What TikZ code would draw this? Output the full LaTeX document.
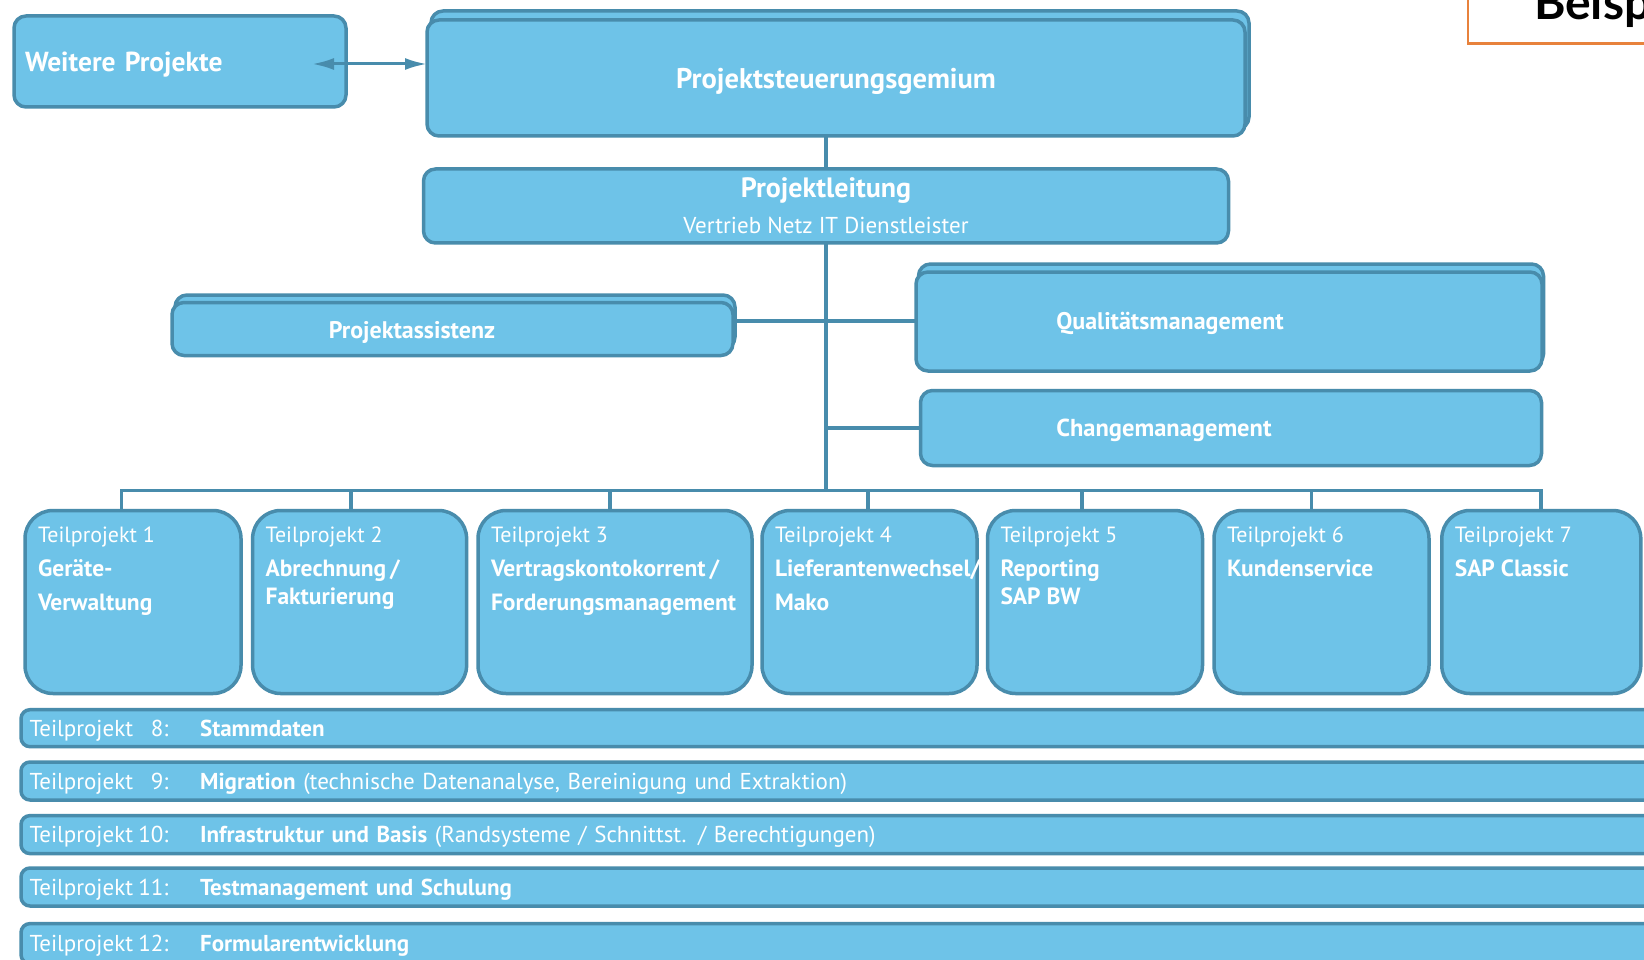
\documentclass[tikz,border=0pt]{standalone}
\usepackage{fontspec}
\setmainfont{PT Sans}
\newfontfamily\latofont{Lato}
\usetikzlibrary{arrows.meta,calc}
\definecolor{boxfill}{RGB}{110,195,232}
\definecolor{boxline}{RGB}{72,140,172}
\definecolor{beispielorange}{RGB}{232,130,60}
\newcommand{\tpb}[1]{{\bfseries\fontsize{23.5}{34}\selectfont #1}}
\newcommand{\barlabel}[1]{\makebox[170.6pt][l]{\rlap{Teilprojekt}\makebox[139pt][r]{#1}}}
\begin{document}
\begin{tikzpicture}[x=1pt,y=-1pt,
  every node/.style={inner sep=0pt, outer sep=0pt},
  box/.style={draw=boxline, fill=boxfill, line width=3.5pt, rounded corners=12pt, text=white},
  tpbox/.style={box, rounded corners=28pt, minimum height=183pt},
  bar/.style={box, rounded corners=9pt, minimum width=1700pt, text width=1683pt, align=left, text height=16.5pt, text depth=0pt, font=\fontsize{23}{27}\selectfont},
  conn/.style={draw=boxline, line width=3.5pt},
  boldlabel/.style={text=white, font=\bfseries\fontsize{24.5}{29}\selectfont},
  tptext/.style={anchor=north west, align=left, text=white, font=\fontsize{22}{34}\selectfont}
]
\useasboundingbox (0,0) rectangle (1644,960);
\fill[white] (0,0) rectangle (1644,960);
\clip (0,0) rectangle (1644,960);

% Beispiel box (cut off)
\draw[draw=beispielorange, line width=2.2pt] (1468,-30) rectangle (1720,43.5);
\node[anchor=base west, font=\latofont\bfseries\fontsize{48}{56}\selectfont] (beispiel) at (1534,20) {Beispiel};

% top row
\node[box, minimum width=332pt, minimum height=91pt, text width=310pt, align=left, text depth=0pt, font=\bfseries\fontsize{27.5}{32}\selectfont] (wp) at (180,61.5) {Weitere Projekte};
\node[box, minimum width=818pt, minimum height=118pt] (psgback) at (840,70) {};
\node[box, minimum width=818pt, minimum height=116pt, text depth=0pt, font=\bfseries\fontsize{28.5}{32}\selectfont] (psg) at (836,78) {Projektsteuerungsgemium};

\node[box, minimum width=805pt, minimum height=74pt, align=center, font=\fontsize{23}{36}\selectfont] (pl) at (826,206) {{\bfseries\fontsize{28}{32}\selectfont Projektleitung}\\Vertrieb Netz IT Dienstleister};

% staff boxes
\node[box, minimum width=560pt, minimum height=54pt] (paback) at (455,322) {};
\node[box, minimum width=561pt, minimum height=53pt] (pa) at (452.5,329) {};
\node[boldlabel, font=\bfseries\fontsize{24}{28}\selectfont] (pat) at (412,332) {Projektassistenz};

\node[box, minimum width=625pt, minimum height=102pt] (qmback) at (1231,315) {};
\node[box, minimum width=626pt, minimum height=99pt] (qm) at (1229,321.5) {};
\node[boldlabel, font=\bfseries\fontsize{24}{28}\selectfont] (qmt) at (1170,323.5) {Qualitätsmanagement};

\node[box, minimum width=621pt, minimum height=75pt] (cm) at (1231,428) {};
\node[boldlabel] (cmt) at (1164,430.5) {Changemanagement};

% Teilprojekt boxes
\node[tpbox, minimum width=216pt] (tp1) at (133,602) {};
\node[tpbox, minimum width=214pt] (tp2) at (359.6,602) {};
\node[tpbox, minimum width=274pt] (tp3) at (615,602) {};
\node[tpbox, minimum width=215pt] (tp4) at (869.5,602) {};
\node[tpbox, minimum width=215pt] (tp5) at (1095,602) {};
\node[tpbox, minimum width=215pt] (tp6) at (1321.5,602) {};
\node[tpbox, minimum width=199pt] (tp7) at (1541.3,602) {};

\node[tptext] (tp1t) at ($(tp1.north west)+(13,16.5)$) {Teilprojekt 1\\\tpb{Geräte-}\\\tpb{Verwaltung}};
\node[tptext] (tp2t) at ($(tp2.north west)+(13,16.5)$) {Teilprojekt 2\\\tpb{Abrechnung\,/}\\[-6pt]\tpb{Fakturierung}};
\node[tptext] (tp3t) at ($(tp3.north west)+(13,16.5)$) {Teilprojekt 3\\\tpb{Vertragskontokorrent\,/}\\\tpb{Forderungsmanagement}};
\node[tptext] (tp4t) at ($(tp4.north west)+(13,16.5)$) {Teilprojekt 4\\\tpb{Lieferantenwechsel/}\\\tpb{Mako}};
\node[tptext] (tp5t) at ($(tp5.north west)+(13,16.5)$) {Teilprojekt 5\\\tpb{Reporting}\\[-6pt]\tpb{SAP BW}};
\node[tptext] (tp6t) at ($(tp6.north west)+(13,16.5)$) {Teilprojekt 6\\\tpb{Kundenservice}};
\node[tptext] (tp7t) at ($(tp7.north west)+(13,16.5)$) {Teilprojekt 7\\\tpb{SAP Classic}};

% bars
\node[bar, minimum height=37pt] (b8) at (871,728.2) {\barlabel{8:}\textbf{Stammdaten}};
\node[bar, minimum height=38pt] (b9) at (871,781) {\barlabel{9:}\textbf{Migration} (technische Datenanalyse, Bereinigung und Extraktion)};
\node[bar, minimum height=38pt] (b10) at (871,834.6) {\barlabel{10:}\textbf{Infrastruktur und Basis} (Randsysteme / Schnittst. / Berechtigungen)};
\node[bar, minimum height=38pt] (b11) at (871,887) {\barlabel{11:}\textbf{Testmanagement und Schulung}};
\node[bar, minimum height=40pt] (b12) at (871,943.6) {\barlabel{12:}\textbf{Formularentwicklung}};

% connectors
\coordinate (arrL) at (312,64);
\draw[conn, line width=3pt, {Latex[length=22pt,width=12pt]}-{Latex[length=22pt,width=12pt]}] (arrL) -- (arrL -| psg.west);
\draw[conn] (pl.north) -- (pl.north |- psg.south);
\coordinate (j1) at (pl.south |- 0,321);
\coordinate (j2) at (pl.south |- 0,428);
\coordinate (busM) at (pl.south |- 0,490.7);
\draw[conn] (pl.south) -- (busM);
\draw[conn] (j1) -- (j1 -| pa.east);
\draw[conn] (j1) -- (j1 -| qm.west);
\draw[conn] (j2) -- (j2 -| cm.west);
\coordinate (busL) at (121.6,490.7);
\coordinate (busR) at (1541,490.7);
\draw[conn] (busL |- tp1.north) -- (busL) -- (busR) -- (busR |- tp7.north);
\foreach \x/\n in {351/tp2, 610/tp3, 868/tp4, 1082/tp5, 1311.7/tp6} {
  \coordinate (d\n) at (\x,490.7);
  \draw[conn] (d\n) -- (d\n |- \n.north);
}
\end{tikzpicture}
\end{document}
